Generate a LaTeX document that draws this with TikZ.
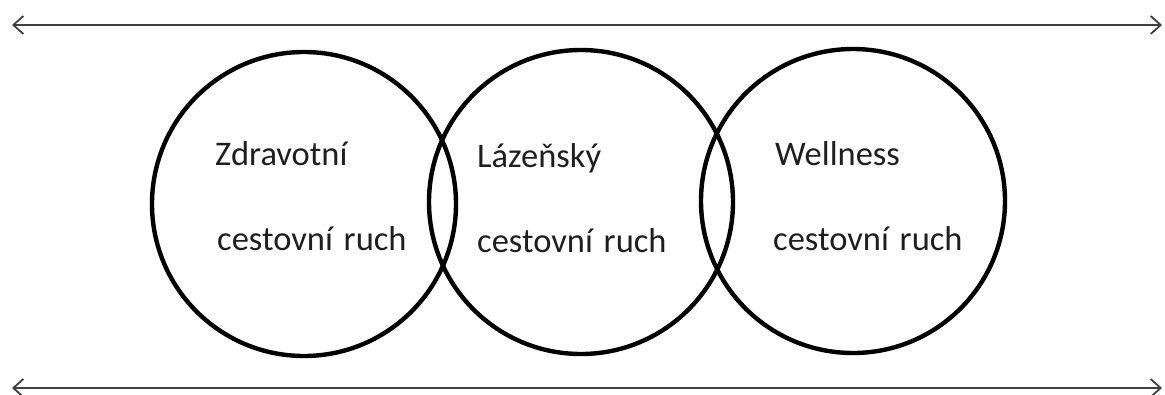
\documentclass[tikz,border=0pt]{standalone}
\usepackage{fontspec}
\setmainfont{Carlito}
\usetikzlibrary{arrows.meta}
\begin{document}
\begin{tikzpicture}[x=1pt,y=-1pt,
  ring/.style={draw=black,line width=4.4pt,circle,minimum size=304pt,inner sep=0pt},
  lbl/.style={anchor=base west,inner sep=0pt,text=black!88,font=\fontsize{34.5}{38}\selectfont},
  span/.style={draw=black!75,line width=2pt,{Straight Barb[length=10pt,width=18pt,line width=1.8pt]}-{Straight Barb[length=10pt,width=18pt,line width=1.8pt]}}]
\useasboundingbox (0,0) rectangle (1165,394);
\coordinate (tl) at (12,25);
\coordinate (tr) at (1162,25);
\coordinate (bl) at (12,388);
\coordinate (br) at (1162,388);
\draw[span] (tl) -- (tr);
\draw[span] (bl) -- (br);
\node[ring] (c1) at (304,204) {};
\node[ring] (c2) at (581,202) {};
\node[ring] (c3) at (853,201) {};
\node[lbl] (t1a) at (215,165) {Zdravotní};
\node[lbl] (t1b) at (217,250) {cestovní\hspace{3pt} ruch};
\node[lbl] (t2a) at (477,167) {Lázeňský};
\node[lbl] (t2b) at (477,252) {cestovní\hspace{3pt} ruch};
\node[lbl] (t3a) at (775,165) {Wellness};
\node[lbl] (t3b) at (773,250) {cestovní\hspace{3pt} ruch};
\end{tikzpicture}
\end{document}
